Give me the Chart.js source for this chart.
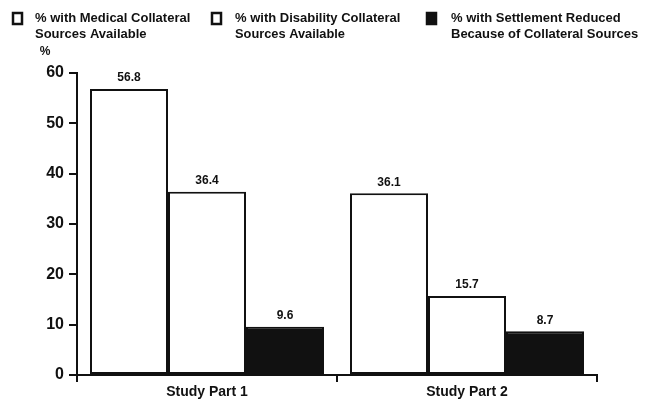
<!DOCTYPE html>
<html>
<head>
<meta charset="utf-8">
<script src="https://cdn.jsdelivr.net/npm/chart.js@4"></script>
<style>
html,body{margin:0;padding:0;background:#fff;}
#wrap{position:relative;width:655px;height:404px;}
</style>
</head>
<body>
<div id="wrap"><canvas id="c" width="655" height="404"></canvas></div>
<script>
const categories = ['Study Part 1', 'Study Part 2'];
const medicalCollateral = [56.8, 36.1];
const disabilityCollateral = [36.4, 15.7];
const settlementReduced = [9.6, 8.7];
const seriesNames = [
  ['% with Medical Collateral', 'Sources Available'],
  ['% with Disability Collateral', 'Sources Available'],
  ['% with Settlement Reduced', 'Because of Collateral Sources']
];
const yTicks = [0, 10, 20, 30, 40, 50, 60];

const FONT = '"Liberation Sans", Arial, sans-serif';

const valueLabels = {
  id: 'valueLabels',
  afterDatasetsDraw(chart) {
    const ctx = chart.ctx;
    ctx.save();
    ctx.fillStyle = '#111';
    ctx.font = 'bold 12px ' + FONT;
    ctx.textAlign = 'center';
    ctx.textBaseline = 'bottom';
    chart.data.datasets.forEach((ds, i) => {
      const meta = chart.getDatasetMeta(i);
      meta.data.forEach((el, j) => {
        ctx.fillText(ds.data[j].toFixed(1), el.x, el.y - 5);
      });
    });
    ctx.restore();
  }
};

const topLegend = {
  id: 'topLegend',
  afterDraw(chart) {
    const ctx = chart.ctx;
    ctx.save();
    const items = [
      {box: 13, text: 35, w1: 168, w2: 113, fill: '#fff'},
      {box: 212, text: 235, w1: 177, w2: 110, fill: '#fff'},
      {box: 427, text: 451, w1: 183, w2: 200, fill: '#111'}
    ];
    ctx.font = 'bold 13px ' + FONT;
    ctx.textBaseline = 'middle';
    ctx.textAlign = 'left';
    items.forEach((it, i) => {
      ctx.fillStyle = it.fill;
      ctx.fillRect(it.box, 13, 9, 11);
      ctx.strokeStyle = '#111';
      ctx.lineWidth = 2.5;
      ctx.strokeRect(it.box, 13, 9, 11);
      ctx.fillStyle = '#111';
      const lines = chart.data.datasets[i].legendLines;
      ctx.fillText(lines[0], it.text, 18, it.w1);
      ctx.fillText(lines[1], it.text, 34, it.w2);
    });
    // y axis unit label
    ctx.font = 'bold 12px ' + FONT;
    ctx.textAlign = 'center';
    ctx.fillText('%', 45, 52);
    ctx.restore();
  }
};

const dsCommon = {
  borderColor: '#111',
  borderWidth: 2,
  borderSkipped: false,
  categoryPercentage: 0.9,
  barPercentage: 1.0
};

new Chart(document.getElementById('c'), {
  type: 'bar',
  data: {
    labels: categories,
    datasets: [
      Object.assign({label: seriesNames[0].join(' '), legendLines: seriesNames[0], data: medicalCollateral, backgroundColor: '#fff'}, dsCommon),
      Object.assign({label: seriesNames[1].join(' '), legendLines: seriesNames[1], data: disabilityCollateral, backgroundColor: '#fff'}, dsCommon),
      Object.assign({label: seriesNames[2].join(' '), legendLines: seriesNames[2], data: settlementReduced, backgroundColor: '#111'}, dsCommon)
    ]
  },
  options: {
    responsive: false,
    animation: false,
    devicePixelRatio: 1,
    layout: {padding: {top: 73, left: 0, right: 58, bottom: 0}},
    plugins: {legend: {display: false}, tooltip: {enabled: false}},
    scales: {
      y: {
        min: 0, max: 60,
        afterBuildTicks(s) { s.ticks = yTicks.map(v => ({value: v})); },
        afterFit(s) { s.width = 77; },
        ticks: {color: '#111', font: {family: FONT, size: 16, weight: 'bold'}, padding: 5},
        grid: {drawOnChartArea: false, tickLength: 8, color: '#111', lineWidth: 2},
        border: {color: '#111', width: 2}
      },
      x: {
        afterFit(s) { s.height = 29; },
        ticks: {color: '#111', font: {family: FONT, size: 14, weight: 'bold'}, padding: 2},
        grid: {drawOnChartArea: false, tickLength: 7, color: '#111', lineWidth: 2, offset: true},
        border: {color: '#111', width: 2}
      }
    }
  },
  plugins: [valueLabels, topLegend]
});
</script>
</body>
</html>
